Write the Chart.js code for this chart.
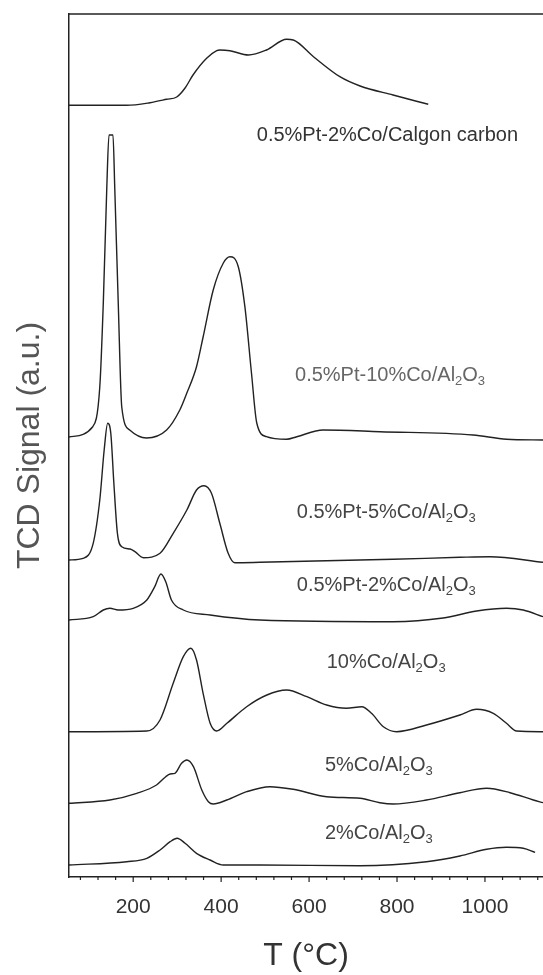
<!DOCTYPE html>
<html>
<head>
<meta charset="utf-8">
<script src="https://cdn.jsdelivr.net/npm/chart.js@4.4.1/dist/chart.umd.min.js"></script>
<style>
  html, body { margin: 0; padding: 0; background: #ffffff; overflow: hidden; }
  #wrap { width: 543px; height: 975px; }
</style>
</head>
<body>
<div id="wrap"><canvas id="c" width="543" height="975"></canvas></div>
<script>
// ---------------- DATA ----------------
// Temperature axis tick labels (°C)
const xTickValues = [200, 400, 600, 800, 1000];

// Series names
const seriesNames = [
  '0.5%Pt-2%Co/Calgon carbon',
  '0.5%Pt-10%Co/Al2O3',
  '0.5%Pt-5%Co/Al2O3',
  '0.5%Pt-2%Co/Al2O3',
  '10%Co/Al2O3',
  '5%Co/Al2O3',
  '2%Co/Al2O3'
];

// 0.5%Pt-2%Co/Calgon carbon
const calgonT = [54, 185, 238, 276, 299, 318, 336, 367, 390, 397, 420, 462, 503, 549, 564, 610, 670, 716, 791, 871];
const calgonS = [77.17, 77.17, 77.43, 77.77, 78.0, 78.9, 80.2, 81.87, 82.63, 82.7, 82.63, 82.2, 82.7, 83.77, 83.7, 82.03, 80.03, 79.1, 78.2, 77.27];

// 0.5%Pt-10%Co/Al2O3
const pt10T = [54, 108, 124, 132, 140, 145, 154, 158, 166, 174, 192, 230, 276, 306, 322, 344, 359, 382, 405, 420, 439, 454, 469, 481, 503, 549, 572, 632, 761, 973, 1049, 1132];
const pt10S = [44.0, 45.03, 49.0, 57.4, 69.0, 74.2, 74.2, 69.0, 57.4, 47.0, 44.7, 43.9, 44.7, 46.7, 48.4, 51.03, 54.0, 58.7, 61.4, 62.03, 61.03, 57.03, 50.4, 45.4, 44.03, 43.77, 44.03, 44.7, 44.53, 44.2, 43.77, 43.7];

// 0.5%Pt-5%Co/Al2O3
const pt5T = [54, 86, 109, 124, 134, 142, 149, 156, 164, 174, 193, 204, 223, 261, 291, 322, 344, 361, 378, 397, 416, 431, 488, 791, 943, 1011, 1132];
const pt5S = [31.7, 31.87, 33.37, 37.7, 42.7, 45.37, 44.4, 39.4, 34.4, 33.03, 32.8, 32.53, 31.93, 32.37, 34.37, 36.7, 38.7, 39.13, 38.37, 35.37, 32.37, 31.43, 31.47, 31.77, 31.97, 32.03, 31.47];

// 0.5%Pt-2%Co/Al2O3
const pt2T = [54, 109, 132, 147, 166, 200, 231, 249, 263, 274, 287, 314, 375, 488, 791, 905, 981, 1049, 1087, 1132];
const pt2S = [25.7, 26.03, 26.7, 26.87, 26.7, 26.87, 27.7, 29.03, 30.3, 29.53, 27.7, 26.7, 26.2, 25.7, 25.53, 25.9, 26.6, 26.87, 26.7, 26.03];

// 10%Co/Al2O3
const co10T = [54, 231, 261, 291, 314, 331, 344, 359, 375, 390, 413, 458, 504, 549, 595, 640, 685, 720, 742, 769, 799, 867, 943, 981, 1019, 1049, 1072, 1132];
const co10S = [14.53, 14.6, 15.7, 19.37, 22.03, 22.87, 21.7, 18.37, 15.37, 14.6, 15.37, 17.03, 18.2, 18.7, 18.03, 17.2, 16.87, 17.03, 16.37, 15.03, 14.53, 15.2, 16.2, 16.77, 16.37, 15.37, 14.6, 14.53];

// 5%Co/Al2O3
const co5T = [54, 147, 208, 253, 274, 284, 295, 310, 322, 337, 356, 371, 382, 413, 458, 511, 564, 640, 716, 761, 791, 867, 943, 1004, 1057, 1110, 1132];
const co5S = [7.37, 7.7, 8.37, 9.2, 10.03, 10.3, 10.37, 11.37, 11.7, 11.03, 8.7, 7.53, 7.3, 7.7, 8.53, 9.03, 8.77, 8.03, 7.87, 7.43, 7.3, 7.7, 8.43, 8.87, 8.43, 7.7, 7.43];

// 2%Co/Al2O3
const co2T = [54, 185, 231, 261, 284, 300, 318, 344, 375, 405, 488, 716, 867, 943, 1004, 1049, 1087, 1114];
const co2S = [1.2, 1.53, 1.87, 2.7, 3.53, 3.87, 3.37, 2.37, 1.7, 1.2, 1.2, 1.13, 1.53, 2.1, 2.77, 2.97, 2.87, 2.47];

// ---------------- BUILD ----------------
const seriesT = [calgonT, pt10T, pt5T, pt2T, co10T, co5T, co2T];
const seriesS = [calgonS, pt10S, pt5S, pt2S, co10S, co5S, co2S];

const datasets = seriesNames.map((name, k) => ({
  label: name,
  data: seriesT[k].map((t, i) => ({ x: t, y: seriesS[k][i] })),
  borderColor: '#222222',
  borderWidth: 1.4,
  pointRadius: 0,
  fill: false,
  cubicInterpolationMode: 'monotone'
}));

const FONT = "'Liberation Sans', Arial, Helvetica, sans-serif";

// Curve label anchors (left edge, vertical middle) in data coordinates
const labelAnchors = [
  { T: 481, v: 74.2, color: '#333333', parts: [['0.5%Pt-2%Co/Calgon carbon', 0]] },
  { T: 568, v: 50.2, color: '#666666', parts: [['0.5%Pt-10%Co/Al', 0], ['2', 1], ['O', 0], ['3', 1]] },
  { T: 572, v: 36.5, color: '#444444', parts: [['0.5%Pt-5%Co/Al', 0], ['2', 1], ['O', 0], ['3', 1]] },
  { T: 572, v: 29.2, color: '#444444', parts: [['0.5%Pt-2%Co/Al', 0], ['2', 1], ['O', 0], ['3', 1]] },
  { T: 640, v: 21.5, color: '#444444', parts: [['10%Co/Al', 0], ['2', 1], ['O', 0], ['3', 1]] },
  { T: 636, v: 11.2, color: '#444444', parts: [['5%Co/Al', 0], ['2', 1], ['O', 0], ['3', 1]] },
  { T: 636, v: 4.4, color: '#444444', parts: [['2%Co/Al', 0], ['2', 1], ['O', 0], ['3', 1]] }
];

const minorStep = 40;

const decorPlugin = {
  id: 'decor',
  afterDraw(chart) {
    const ctx = chart.ctx;
    const xs = chart.scales.x, ys = chart.scales.y;
    const ca = chart.chartArea;
    ctx.save();
    // top frame line
    ctx.strokeStyle = '#222222';
    ctx.lineWidth = 1.5;
    ctx.beginPath();
    ctx.moveTo(ca.left, ca.top);
    ctx.lineTo(ca.right, ca.top);
    ctx.stroke();
    // tick marks on x axis (major + minor)
    ctx.lineWidth = 1.2;
    const start = Math.ceil(xs.min / minorStep) * minorStep;
    for (let v = start; v <= xs.max; v += minorStep) {
      const px = xs.getPixelForValue(v);
      const major = xTickValues.includes(v);
      ctx.beginPath();
      ctx.moveTo(px, ca.bottom);
      ctx.lineTo(px, ca.bottom + (major ? 5 : 3));
      ctx.stroke();
    }
    // curve labels
    ctx.textBaseline = 'middle';
    ctx.textAlign = 'left';
    labelAnchors.forEach(lab => {
      let x = xs.getPixelForValue(lab.T);
      const y = ys.getPixelForValue(lab.v);
      ctx.fillStyle = lab.color;
      lab.parts.forEach(([txt, sub]) => {
        ctx.font = (sub ? '13px ' : '20px ') + FONT;
        ctx.fillText(txt, x, sub ? y + 6 : y);
        x += ctx.measureText(txt).width;
      });
    });
    ctx.restore();
  }
};

new Chart(document.getElementById('c'), {
  type: 'line',
  data: { datasets },
  options: {
    responsive: false,
    devicePixelRatio: 1,
    animation: false,
    layout: { padding: { left: 0, right: 0, top: 14, bottom: 0 } },
    plugins: { legend: { display: false }, tooltip: { enabled: false } },
    scales: {
      x: {
        type: 'linear',
        min: 54,
        max: 1132,
        afterBuildTicks(scale) { scale.ticks = xTickValues.map(v => ({ value: v })); },
        ticks: {
          autoSkip: false,
          maxRotation: 0,
          padding: 18,
          color: '#333333',
          font: { family: FONT, size: 21 },
          callback: v => String(v)
        },
        grid: { drawOnChartArea: false, drawTicks: false },
        border: { display: true, color: '#222222', width: 1.5 },
        title: {
          display: true,
          text: 'T (°C)',
          color: '#333333',
          font: { family: FONT, size: 32, lineHeight: 1.15 },
          padding: { top: 0, bottom: 0 }
        }
      },
      y: {
        type: 'linear',
        min: 0,
        max: 86.3,
        ticks: { display: false },
        grid: { drawOnChartArea: false, drawTicks: false },
        border: { display: true, color: '#222222', width: 1.5 },
        title: {
          display: true,
          text: 'TCD Signal (a.u.)',
          color: '#555555',
          font: { family: FONT, size: 32 },
          padding: { top: 11, bottom: 19.6 }
        }
      }
    }
  },
  plugins: [decorPlugin]
});
</script>
</body>
</html>
